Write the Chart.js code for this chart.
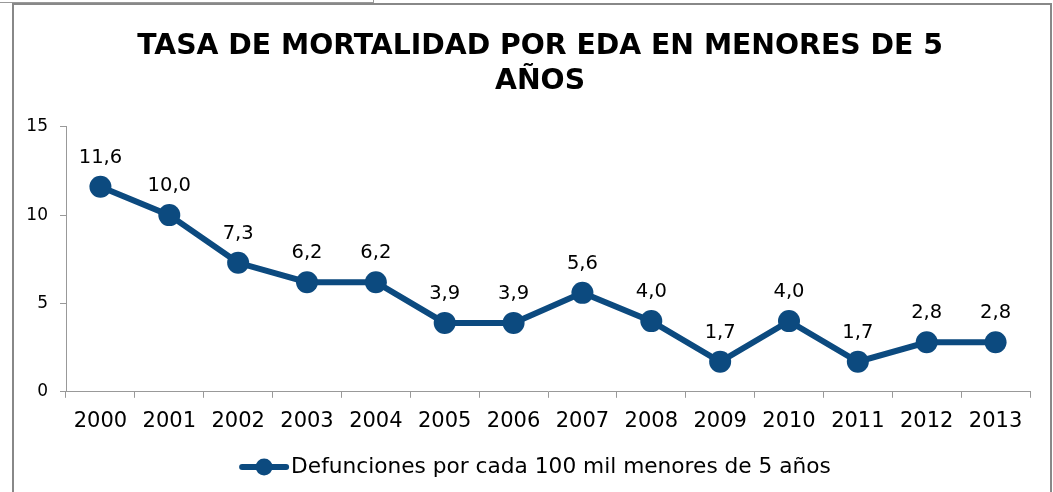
<!DOCTYPE html>
<html>
<head>
<meta charset="utf-8">
<script src="https://cdn.jsdelivr.net/npm/chart.js@4.4.1/dist/chart.umd.min.js"></script>
<style>
  html, body { margin: 0; padding: 0; background: #fff; }
  #wrap { position: relative; width: 1053px; height: 492px; overflow: hidden; }
  #frame { position: absolute; left: 12px; top: 3px; width: 1036px; height: 520px;
    border-left: 2px solid #888; border-top: 2px solid #888; border-right: 2px solid #888; }
  #old { position: absolute; left: 0; top: 0; width: 373px; height: 2px;
    border-bottom: 1px solid #999; border-right: 1px solid #999; }
  canvas { position: absolute; left: 0; top: 0; }
</style>
</head>
<body>
<div id="wrap">
  <div id="old"></div>
  <div id="frame"></div>
  <canvas id="myChart" width="1053" height="492"></canvas>
</div>
<script>
const years = ["2000", "2001", "2002", "2003", "2004", "2005", "2006", "2007", "2008", "2009", "2010", "2011", "2012", "2013"];
const rates = [11.6, 10.0, 7.3, 6.2, 6.2, 3.9, 3.9, 5.6, 4.0, 1.7, 4.0, 1.7, 2.8, 2.8];
const seriesName = "Defunciones por cada 100 mil menores de 5 años";
const titleLines = ["TASA DE MORTALIDAD POR EDA EN MENORES DE 5", "AÑOS"];

const blue = "#0c4a7f";
const labelFont = "19.5px 'DejaVu Sans'";
const titleFont = "bold 28.3px 'DejaVu Sans'";

// value labels above each point, comma decimals
const valueLabels = {
  id: "valueLabels",
  afterDatasetsDraw(chart) {
    const ctx = chart.ctx;
    const meta = chart.getDatasetMeta(0);
    ctx.save();
    ctx.font = labelFont;
    ctx.fillStyle = "#000";
    ctx.textAlign = "center";
    ctx.textBaseline = "middle";
    meta.data.forEach((pt, i) => {
      ctx.fillText(rates[i].toFixed(1).replace(".", ","), pt.x, pt.y - 29);
    });
    ctx.restore();
  },
};

// the built-in title only reserves the space; draw it centred a bit to the right
const centredTitle = {
  id: "centredTitle",
  afterDraw(chart) {
    const ctx = chart.ctx;
    const box = chart.titleBlock;
    ctx.save();
    ctx.font = titleFont;
    ctx.fillStyle = "#000";
    ctx.textAlign = "center";
    ctx.textBaseline = "middle";
    const lh = 28.3 * 1.25;
    titleLines.forEach((t, i) => {
      ctx.fillText(t, 540, box.top + lh * (i + 0.5));
    });
    ctx.restore();
  },
};

// legend: line with a dot, then the text
const lineLegend = {
  id: "lineLegend",
  afterDraw(chart) {
    const ctx = chart.ctx;
    ctx.save();
    ctx.font = "21.7px 'DejaVu Sans'";
    const textW = ctx.measureText(seriesName).width;
    const total = 48 + 3 + textW;
    const x0 = (chart.width - total) / 2 + 9;
    const y = 467;
    ctx.strokeStyle = blue;
    ctx.lineWidth = 6;
    ctx.lineCap = "round";
    ctx.beginPath();
    ctx.moveTo(x0 + 2, y);
    ctx.lineTo(x0 + 46, y);
    ctx.stroke();
    ctx.fillStyle = blue;
    ctx.beginPath();
    ctx.arc(x0 + 24, y, 8.5, 0, Math.PI * 2);
    ctx.fill();
    ctx.fillStyle = "#000";
    ctx.textBaseline = "middle";
    ctx.fillText(seriesName, x0 + 51, y);
    ctx.restore();
  },
};

const ctx = document.getElementById("myChart").getContext("2d");
const myChart = new Chart(ctx, {
  type: "line",
  data: {
    labels: years,
    datasets: [
      {
        label: seriesName,
        data: rates,
        borderColor: blue,
        backgroundColor: blue,
        borderWidth: 6,
        pointRadius: 11,
        pointHoverRadius: 11,
        pointBackgroundColor: blue,
        pointBorderWidth: 0,
        tension: 0,
      },
    ],
  },
  options: {
    responsive: false,
    animation: false,
    layout: { padding: { top: 29, right: 23, bottom: 47, left: 0 } },
    plugins: {
      legend: { display: false },
      tooltip: { enabled: false },
      title: {
        display: true,
        text: titleLines,
        color: "rgba(0,0,0,0)",
        font: { family: "DejaVu Sans", weight: "bold", size: 28.3, lineHeight: 1.25 },
        padding: { top: 0, bottom: 27 },
      },
    },
    scales: {
      x: {
        offset: true,
        grid: { offset: true, drawOnChartArea: false, drawTicks: true, tickLength: 6, color: "#999" },
        border: { color: "#999" },
        ticks: { color: "#000", padding: 11, maxRotation: 0, font: { family: "DejaVu Sans", size: 21 } },
      },
      y: {
        min: 0,
        max: 15,
        afterFit(scale) { scale.width = 66; },
        grid: { drawOnChartArea: false, drawTicks: true, tickLength: 6, color: "#999" },
        border: { color: "#999" },
        ticks: { stepSize: 5, color: "#000", padding: 12, font: { family: "DejaVu Sans", size: 17 } },
      },
    },
  },
  plugins: [valueLabels, centredTitle, lineLegend],
});
</script>
</body>
</html>
